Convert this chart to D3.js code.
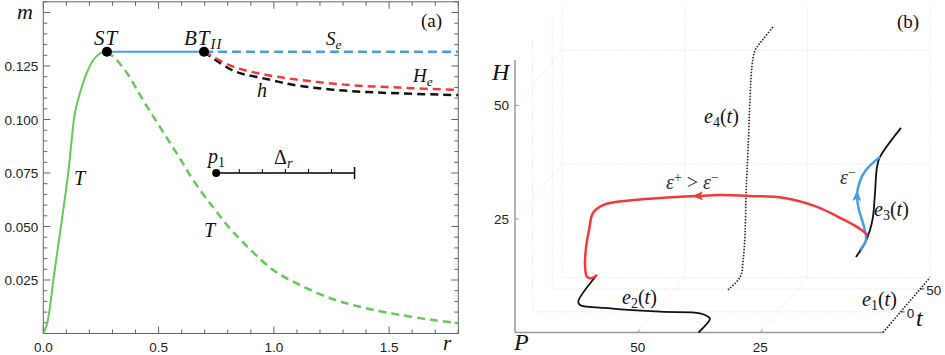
<!DOCTYPE html>
<html><head><meta charset="utf-8">
<script src="https://cdn.jsdelivr.net/npm/d3@7"></script>
<style>
body{margin:0;background:#fff;}
svg{display:block;}
</style></head>
<body>
<svg id="c" width="945" height="355"></svg>
<script>
// ---------- Panel (a) data: [r, m] ----------
const xTicksA = [0, 0.5, 1.0, 1.5];
const xTickLabelsA = ["0.0", "0.5", "1.0", "1.5"];
const yTicksA = [0.025, 0.05, 0.075, 0.1, 0.125];
const yTickLabelsA = ["0.025", "0.050", "0.075", "0.100", "0.125"];
const T_stable = [[0,0],[0.015,0.004],[0.027,0.011],[0.0434,0.025],[0.0768,0.0502],[0.108,0.0749],[0.123,0.0904],[0.137,0.1029],[0.159,0.1124],[0.188,0.1217],[0.217,0.1278],[0.246,0.1309],[0.276,0.1317]];
const T_unstable = [[0.276,0.1317],[0.311,0.1286],[0.363,0.1217],[0.433,0.109],[0.506,0.0965],[0.578,0.0843],[0.65,0.0717],[0.74,0.0585],[0.823,0.0475],[0.997,0.0297],[1.113,0.0227],[1.258,0.0160],[1.373,0.0125],[1.489,0.0098],[1.69,0.0063],[1.8,0.0048]];
const Se_stable = [[0.276,0.1317],[0.697,0.1317]];
const Se_unstable = [[0.697,0.1317],[1.8,0.1317]];
const He = [[0.697,0.1317],[0.824,0.1247],[0.969,0.1208],[1.113,0.1185],[1.33,0.1161],[1.547,0.1149],[1.8,0.1138]];
const hCurve = [[0.697,0.1317],[0.824,0.1228],[0.969,0.1189],[1.113,0.1157],[1.33,0.1133],[1.547,0.1122],[1.8,0.1114]];
const specialPoints = [[0.276,0.1317],[0.697,0.1317]];
const p1 = [0.75, 0.075];
const deltaR = [0.75, 1.35];
const deltaTicks = [0.85, 0.95, 1.05, 1.15, 1.25];

// ---------- Panel (b) data: [P, t, H] ----------
const pTicks = [50, 25];
const hTicks = [25, 50];
const tTicks = [0, 50];
const e1 = [[0,-45,0],[0,75,0]];
const e2 = [[37.6,-45,0],[37.65,-15,0],[38.0,-15,0.45],[39.7,-15,1.2],[47.8,-15,1.55],[58.0,-15,2.3],[64.15,-15,3.03],[64.5,-15,3.75],[63.1,15,6.6]];
const e3 = [[10.3,15,10.57],[8.46,15,13.65],[7.44,15,16.5],[6.83,15,19.4],[6.42,15,24.7],[6.01,15,30.4],[5.4,15,32.6],[1.12,15,39.0]];
const e4 = [[31.6,-45,9.4],[31.5,-15,9.2],[30.9,-15,12.9],[30.5,-15,18.9],[30.3,-15,27.7],[29.9,-15,37.2],[29.5,-15,48.2],[29.1,-15,55.5],[28.7,-12,58.8],[28.5,5,59.4],[28.5,31,59.6]];
const heteroPlus = [[7.85,15,15.4],[10.1,15,17.2],[13.55,15,19.2],[18.24,15,21.6],[25.17,15,23.6],[31.9,15,24.0],[38.0,15,24.2],[42.7,15,24.0],[50.24,15,23.56],[56.96,15,22.97],[61.85,15,22.0],[63.9,15,20.26],[64.7,15,16.5],[65.3,15,12.8],[65.5,15,8.37],[65.1,15,6.17],[64.1,15,5.95],[63.1,15,6.6]];
const heteroMinus = [[9.48,15,12.1],[8.26,15,14.3],[8.66,15,17.2],[9.68,15,20.9],[10.09,15,24.2],[9.48,15,27.3],[8.26,15,29.7],[6.42,15,31.7],[5.4,15,32.6]];

const SANS = "'Liberation Sans', Arimo, Arial, Helvetica, sans-serif";
const SERIF = "'Liberation Serif', 'Times New Roman', Tinos, 'DejaVu Serif', serif";

const svg = d3.select("#c");

function tickText(g,x,y,txt,anchor){
  return g.append("text").attr("x",x).attr("y",y).attr("text-anchor",anchor||"start")
    .attr("font-family",SANS).attr("font-size",13.5).attr("fill","#222").text(txt);
}
function itText(g,x,y,size,parts,anchor){
  const t = g.append("text").attr("x",x).attr("y",y).attr("font-size",size)
    .attr("font-family",SERIF).attr("fill","#111").attr("text-anchor",anchor||"start");
  parts.forEach(p=>{
    const s = t.append("tspan").attr("font-style",p.rm?"normal":"italic").text(p.s);
    if(p.sub){s.attr("font-size",size*0.7).attr("dy",4);}
    if(p.sup){s.attr("font-size",size*0.7).attr("dy",-7);}
    if(p.back){s.attr("dy",p.back);}
    if(p.ls){s.attr("letter-spacing",p.ls);}
  });
  return t;
}

// ===== Panel (a) =====
const xA = d3.scaleLinear().domain([0, 1.8]).range([43.3, 458.3]);
const yA = d3.scaleLinear().domain([0, 0.155]).range([333.5, 1.8]);
const gA = svg.append("g");
gA.append("clipPath").attr("id","clipA").append("rect")
  .attr("x",xA(0)).attr("y",yA(0.155)).attr("width",xA(1.8)-xA(0)).attr("height",yA(0)-yA(0.155));

const frameCol = "#666";
gA.append("rect").attr("x",xA(0)).attr("y",yA(0.155)).attr("width",xA(1.8)-xA(0)).attr("height",yA(0)-yA(0.155))
  .attr("fill","none").attr("stroke",frameCol).attr("stroke-width",1);
const xMinor = d3.range(0, 1.8001, 0.1);
const yMinor = d3.range(0, 0.1551, 0.005);
function isMajorX(v){return Math.abs(v*2-Math.round(v*2))<1e-6;}
function isMajorY(v){return Math.abs(v/0.025-Math.round(v/0.025))<1e-6;}
xMinor.forEach(v=>{
  const L = isMajorX(v)?7:4;
  gA.append("line").attr("x1",xA(v)).attr("x2",xA(v)).attr("y1",yA(0)).attr("y2",yA(0)-L).attr("stroke",frameCol);
  gA.append("line").attr("x1",xA(v)).attr("x2",xA(v)).attr("y1",yA(0.155)).attr("y2",yA(0.155)+L).attr("stroke",frameCol);
});
yMinor.forEach(v=>{
  const L = isMajorY(v)?7:4;
  gA.append("line").attr("y1",yA(v)).attr("y2",yA(v)).attr("x1",xA(0)).attr("x2",xA(0)+L).attr("stroke",frameCol);
  gA.append("line").attr("y1",yA(v)).attr("y2",yA(v)).attr("x1",xA(1.8)).attr("x2",xA(1.8)-L).attr("stroke",frameCol);
});
xTicksA.forEach((v,i)=>tickText(gA,xA(v),352,xTickLabelsA[i],"middle"));
yTicksA.forEach((v,i)=>tickText(gA,xA(0)-5,yA(v)+5,yTickLabelsA[i],"end"));

const lineA = d3.line().x(d=>xA(d[0])).y(d=>yA(d[1])).curve(d3.curveCatmullRom.alpha(0.5));
const green = "#66c95a", blue = "#4a9fe3", red = "#f23a3a";
const plotA = gA.append("g").attr("clip-path","url(#clipA)");
plotA.append("path").attr("d",lineA(T_unstable)).attr("fill","none").attr("stroke",green).attr("stroke-width",2.5).attr("stroke-dasharray","8,5");
plotA.append("path").attr("d",lineA(T_stable)).attr("fill","none").attr("stroke",green).attr("stroke-width",2);
plotA.append("path").attr("d",lineA(Se_unstable)).attr("fill","none").attr("stroke",blue).attr("stroke-width",2.5).attr("stroke-dasharray","9,5");
plotA.append("path").attr("d",lineA(Se_stable)).attr("fill","none").attr("stroke",blue).attr("stroke-width",2);
plotA.append("path").attr("d",lineA(hCurve)).attr("fill","none").attr("stroke","#111").attr("stroke-width",2.5).attr("stroke-dasharray","8,5");
plotA.append("path").attr("d",lineA(He)).attr("fill","none").attr("stroke",red).attr("stroke-width",2.5).attr("stroke-dasharray","8,5");
specialPoints.forEach(p=>plotA.append("circle").attr("cx",xA(p[0])).attr("cy",yA(p[1])).attr("r",5).attr("fill","#000"));
plotA.append("line").attr("x1",xA(deltaR[0])).attr("x2",xA(deltaR[1])).attr("y1",yA(p1[1])).attr("y2",yA(p1[1])).attr("stroke","#000").attr("stroke-width",1.5);
deltaTicks.forEach(v=>plotA.append("line").attr("x1",xA(v)).attr("x2",xA(v)).attr("y1",yA(p1[1])).attr("y2",yA(p1[1])-4).attr("stroke","#000").attr("stroke-width",1));
plotA.append("line").attr("x1",xA(deltaR[1])).attr("x2",xA(deltaR[1])).attr("y1",yA(p1[1])-6).attr("y2",yA(p1[1])+6).attr("stroke","#000").attr("stroke-width",1.5);
plotA.append("circle").attr("cx",xA(p1[0])).attr("cy",yA(p1[1])).attr("r",4).attr("fill","#000");

itText(gA,17,19,22,[{s:"m"}]);
itText(gA,443,350,21,[{s:"r"}]);
itText(gA,94,45,21,[{s:"ST",ls:1}]);
itText(gA,184,45,21,[{s:"BT",ls:1},{s:"II",sub:true,ls:1}]);
itText(gA,326,45,19,[{s:"S"},{s:"e",sub:true}]);
itText(gA,413,82,19,[{s:"H"},{s:"e",sub:true}]);
itText(gA,257,97,20,[{s:"h"}]);
itText(gA,74,185,20,[{s:"T"}]);
itText(gA,204,237,20,[{s:"T"}]);
itText(gA,208,163,20,[{s:"p"},{s:"1",sub:true,rm:true}]);
itText(gA,274,164,20,[{s:"Δ",rm:true},{s:"r",sub:true}]);
itText(gA,421,27,19,[{s:"(a)",rm:true}]);

// ===== Panel (b) =====
const xP = d3.scaleLinear().domain([75, 0]).range([515, 883]);
const yH = d3.scaleLinear().domain([0, 60]).range([332.5, 60]);
const tX = d3.scaleLinear().domain([-45, 75]).range([0, 47]);
const tY = d3.scaleLinear().domain([-45, 75]).range([0, -55]);
const proj = d => [xP(d[0]) + tX(d[1]), yH(d[2]) + tY(d[1])];
const gB = svg.append("g");
const gridCol = "#ececec";
function seg(a,b,col,w,dash){
  const A=proj(a),B=proj(b);
  const l = gB.append("line").attr("x1",A[0]).attr("y1",A[1]).attr("x2",B[0]).attr("y2",B[1]).attr("stroke",col).attr("stroke-width",w);
  if(dash) l.attr("stroke-dasharray",dash);
  return l;
}
[75,50,25,0].forEach(P=>seg([P,75,0],[P,75,60],gridCol,1,"2,1"));
[0,25,50].forEach(H=>seg([75,75,H],[0,75,H],gridCol,1,"2,1"));
[0,50].forEach(t=>seg([75,t,0],[75,t,60],gridCol,1,"2,1"));
[25,50].forEach(H=>seg([75,-45,H],[75,75,H],gridCol,1,"2,1"));
[0,50].forEach(t=>seg([75,t,0],[0,t,0],gridCol,1,"2,1"));
[25,50].forEach(P=>seg([P,-45,0],[P,75,0],gridCol,1,"2,1"));

const axCol = "#9a9a9a";
seg([75,-45,0],[75,-45,60],axCol,1.5);
seg([75,-45,0],[0,-45,0],axCol,1.5);
hTicks.forEach(H=>{
  const p=proj([75,-45,H]);
  gB.append("line").attr("x1",p[0]).attr("x2",p[0]+4).attr("y1",p[1]).attr("y2",p[1]).attr("stroke",axCol);
  tickText(gB,p[0]-6,p[1]+5,H,"end");
});
pTicks.forEach(P=>{
  const p=proj([P,-45,0]);
  gB.append("line").attr("x1",p[0]).attr("x2",p[0]+2).attr("y1",p[1]).attr("y2",p[1]-3).attr("stroke",axCol);
  tickText(gB,p[0],p[1]+19,P,"middle");
});
tTicks.forEach(t=>{
  const p=proj([0,t,0]);
  gB.append("line").attr("x1",p[0]).attr("x2",p[0]+4).attr("y1",p[1]).attr("y2",p[1]).attr("stroke","#333");
  tickText(gB,p[0]+6,p[1]+6,t);
});

const lineB = d3.line().x(d=>proj(d)[0]).y(d=>proj(d)[1]).curve(d3.curveCatmullRom.alpha(0.5));
gB.append("path").attr("d",lineB(e1)).attr("fill","none").attr("stroke","#222").attr("stroke-width",1.6).attr("stroke-dasharray","1.5,1.5");
gB.append("path").attr("d",lineB(e4)).attr("fill","none").attr("stroke","#222").attr("stroke-width",1.6).attr("stroke-dasharray","1.5,1.5");
gB.append("path").attr("d",lineB(e2)).attr("fill","none").attr("stroke","#111").attr("stroke-width",1.8);
gB.append("path").attr("d",lineB(e3)).attr("fill","none").attr("stroke","#111").attr("stroke-width",1.8);
gB.append("path").attr("d",lineB(heteroMinus)).attr("fill","none").attr("stroke",blue).attr("stroke-width",2.5);
gB.append("path").attr("d",lineB(heteroPlus)).attr("fill","none").attr("stroke",red).attr("stroke-width",2.5);

function arrowAt(data,i,col){
  const a=proj(data[i-1]),b=proj(data[i]),c=proj(data[i+1]);
  const ang=Math.atan2(c[1]-a[1],c[0]-a[0])*180/Math.PI;
  gB.append("path").attr("d","M5,0 L-6,-4.5 L-3.5,0 L-6,4.5 Z").attr("fill",col)
    .attr("transform",`translate(${b[0]},${b[1]}) rotate(${ang})`);
}
arrowAt(heteroPlus,7,red);
arrowAt(heteroMinus,4,blue);

itText(gB,492,80,24,[{s:"H"}]);
itText(gB,514,350,24,[{s:"P"}]);
itText(gB,916,326,24,[{s:"t"}]);
itText(gB,897,28,19,[{s:"(b)",rm:true}]);
const eParts = n => [{s:"e"},{s:n,sub:true,rm:true},{s:"(",rm:true,back:-4},{s:"t"},{s:")",rm:true}];
itText(gB,704,123,20,eParts("4"));
itText(gB,622,304,20,eParts("2"));
itText(gB,874,216,20,eParts("3"));
itText(gB,862,306,20,eParts("1"));
const ep = itText(gB,666,189,20,[{s:"ε"},{s:"+",rm:true,sup:true},{s:" > ",rm:true,back:7},{s:"ε"},{s:"−",rm:true,sup:true}]);
ep.attr("fill","#333");
const em = itText(gB,840,184,20,[{s:"ε"},{s:"−",rm:true,sup:true}]);
em.attr("fill","#333");
</script>
</body></html>
